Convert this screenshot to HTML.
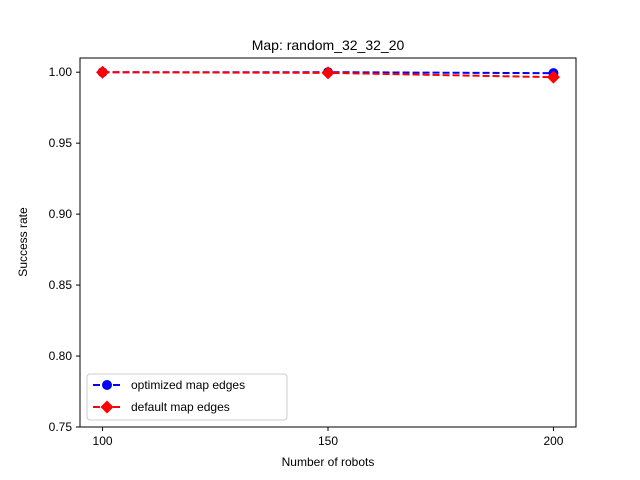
<!DOCTYPE html>
<html><head><meta charset="utf-8"><style>body{margin:0;background:#fff}svg{display:block;font-family:"Liberation Sans","DejaVu Sans",sans-serif}</style></head>
<body>
<svg id="chart" width="640" height="480">
<rect width="640" height="480" fill="#fff"/>
<text x="328" y="50" font-size="14" text-anchor="middle">Map: random_32_32_20</text>
<g id="ticks"></g>
<g id="series"></g>
<rect x="80" y="58" width="496" height="369" fill="none" stroke="#000" stroke-width="1"/>
<text x="328" y="466" font-size="12" text-anchor="middle">Number of robots</text>
<text x="27" y="242" font-size="12" text-anchor="middle" transform="rotate(-90 27 242)">Success rate</text>
<g>
<rect x="87" y="374" width="200" height="46" rx="3" fill="#fff" fill-opacity="0.8" stroke="#ccc"/>
<g>
<line x1="93" y1="385" x2="121" y2="385" stroke="#0000ff" stroke-width="2" stroke-dasharray="7,3"/>
<circle cx="107" cy="385" r="5" fill="#0000ff"/>
<text x="131" y="389" font-size="12">optimized map edges</text></g>
<g>
<line x1="93" y1="407" x2="121" y2="407" stroke="#ff0000" stroke-width="2" stroke-dasharray="7,3"/>
<path d="M107 400.5 L113.5 407 L107 413.5 L100.5 407 Z" fill="#ff0000"/>
<text x="131" y="411" font-size="12">default map edges</text></g>
</g>
</svg>
<script>
const categories=[100,150,200];
const optimized=[1.0,1.0,0.9993];
const defaults=[1.0,0.9995,0.9965];
const yTicks=[0.75,0.80,0.85,0.90,0.95,1.00];
const yTickLabels=["0.75","0.80","0.85","0.90","0.95","1.00"];
const NS="http://www.w3.org/2000/svg";
const xS=v=>80+(v-95)/110*496;
const yS=v=>427-(v-0.75)/0.26*369;
function mk(t,a,p){const e=document.createElementNS(NS,t);for(const k in a)e.setAttribute(k,a[k]);p.appendChild(e);return e;}
const tk=document.getElementById('ticks');
categories.forEach(c=>{
 const l=mk('line',{x1:xS(c),x2:xS(c),y1:427,y2:431,stroke:'#000'},tk);
 
 
 const t=mk('text',{x:xS(c),y:445,'font-size':12,'text-anchor':'middle'},tk);t.textContent=c;
 
 
});
yTicks.forEach((v,i)=>{
 const l=mk('line',{x1:76,x2:80,y1:yS(v),y2:yS(v),stroke:'#000'},tk);
 
 
 const t=mk('text',{x:72,y:yS(v)+4,'font-size':12,'text-anchor':'end'},tk);t.textContent=yTickLabels[i];
 
 
});
const sg=document.getElementById('series');
function series(vals,color,name,marker){
 const pl=mk('polyline',{points:vals.map((v,i)=>xS(categories[i])+','+yS(v)).join(' '),fill:'none',stroke:color,'stroke-width':2,'stroke-dasharray':'7,3'},sg);
 
 
 vals.forEach((v,i)=>{
  const x=xS(categories[i]),y=yS(v);let m;
  if(marker==='o')m=mk('circle',{cx:x,cy:y,r:5,fill:color},sg);
  else m=mk('path',{d:`M${x} ${y-6.5} L${x+6.5} ${y} L${x} ${y+6.5} L${x-6.5} ${y} Z`,fill:color},sg);
  
  
 });
}
series(optimized,'#0000ff','optimized','o');
series(defaults,'#ff0000','default','D');
</script>
</body></html>
